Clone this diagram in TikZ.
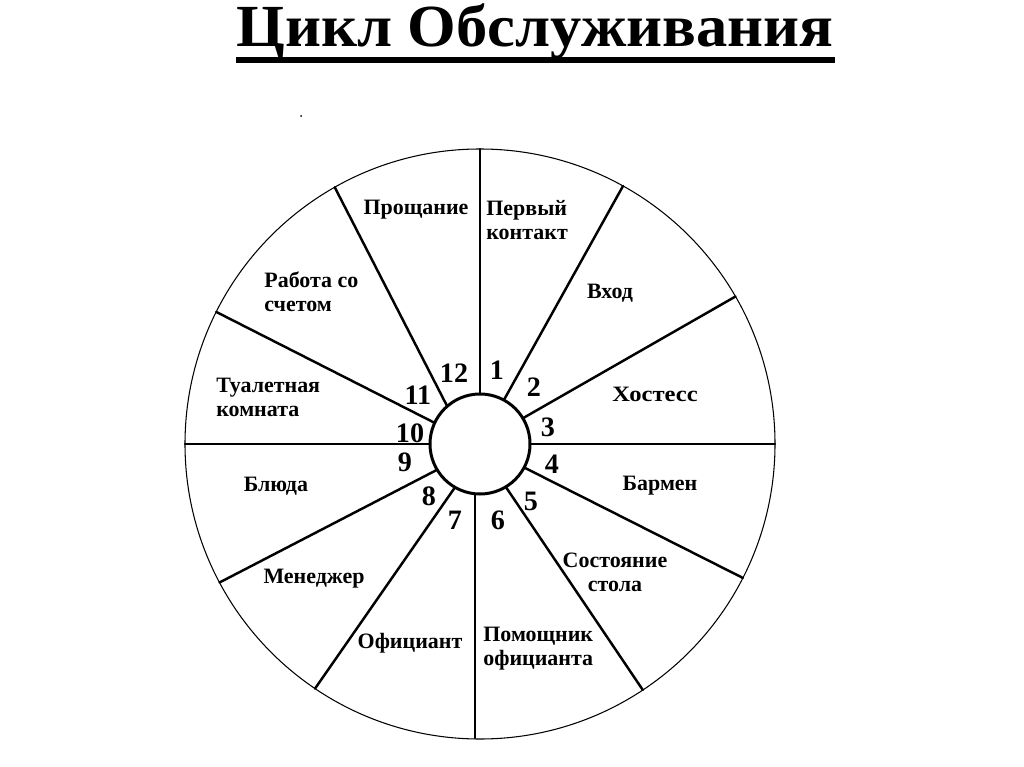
\documentclass[tikz,border=0pt]{standalone}
\usepackage{fontspec}
\setmainfont{Liberation Serif}
\usetikzlibrary{calc}
\tikzset{
  lbl/.style={font=\bfseries\fontsize{12.5}{13.6}\selectfont, inner sep=0pt, align=left},
  lblc/.style={lbl, align=center},
  num/.style={font=\bfseries\fontsize{16}{16}\selectfont, inner sep=0pt},
  spoke/.style={line width=1.4pt, line cap=round},
  rim/.style={line width=0.6pt},
  hub/.style={line width=1.7pt},
}
\begin{document}
\begin{tikzpicture}[x=0.02cm, y=-0.02cm]
\useasboundingbox (0,0) rectangle (1024,767);
\fill[white] (0,0) rectangle (1024,767);
% title
\node[font=\bfseries\fontsize{34}{34}\selectfont, anchor=base, inner sep=0pt, xscale=1.047] (title) at (535,47) {Цикл Обслуживания};
\draw[line width=3.4pt] (236,60) -- (835,60);
\fill (301,116) circle (1);
% wheel
\coordinate (c) at (480,444);
\draw[rim] (c) circle (295);
\foreach \ao/\ai in {90/90, 61/61.5, 30/31, 0/0, 333/332, 303.5/301, 236/240, 208/211, 180/180, 153.4/155, 119.5/131}{
  \draw[spoke] ($(c)+(-\ai:50)$) -- ($(c)+(-\ao:295)$);
}
\coordinate (b1) at (475,494);
\coordinate (b2) at (475,738);
\draw[spoke] (b1) -- (b2);
\draw[hub, fill=white] (c) circle (50);
% numbers
\node[num] (n12) at (454,373) {12};
\node[num] (n1) at (497,370) {1};
\node[num] (n2) at (534,387) {2};
\node[num] (n3) at (548,427) {3};
\node[num] (n4) at (552,464) {4};
\node[num] (n5) at (531,501) {5};
\node[num] (n6) at (498,520) {6};
\node[num] (n7) at (455,520) {7};
\node[num] (n8) at (429,496) {8};
\node[num] (n9) at (405,462) {9};
\node[num] (n10) at (410,433) {10};
\node[num] (n11) at (418,395) {11};
% labels
\node[lbl] (l12) at (416,210) {Прощание};
\node[lbl, anchor=west] (l1) at (486,220) {Первый\\контакт};
\node[lbl] (l2) at (610,293) {Вход};
\node[lbl, xscale=1.12] (l3) at (655,394) {Хостесс};
\node[lbl] (l4) at (660,486) {Бармен};
\node[lblc] (l5) at (615,572) {Состояние\\стола};
\node[lbl, anchor=west] (l6) at (483,649) {Помощник\\официанта};
\node[lbl] (l7) at (410,643) {Официант};
\node[lbl] (l8) at (314,579) {Менеджер};
\node[lbl] (l9) at (276,486) {Блюда};
\node[lbl, anchor=west] (l10) at (216,397) {Туалетная\\комната};
\node[lbl, anchor=west] (l11) at (264,292) {Работа со\\счетом};
\end{tikzpicture}
\end{document}
